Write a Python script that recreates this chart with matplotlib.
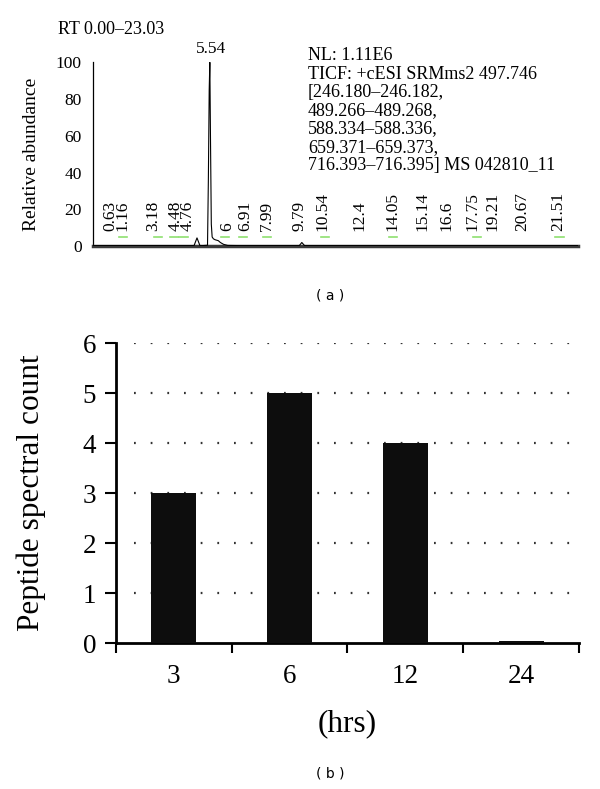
import matplotlib
matplotlib.use("Agg")
import matplotlib.pyplot as plt

# --- Panel (a): chromatogram (RT in min, relative abundance in %) ---
rt = [0.0, 1.0, 2.0, 3.0, 4.0, 4.80, 4.94, 5.08, 5.20, 5.44, 5.48, 5.52, 5.55,
      5.58, 5.62, 5.66, 5.72, 5.80, 5.95, 6.05, 6.20, 6.40, 7.0, 8.0, 9.80,
      9.92, 10.05, 12.0, 15.0, 18.0, 21.0, 23.03]
abundance = [0.3, 0.3, 0.3, 0.3, 0.3, 0.3, 4.5, 0.3, 0.3, 0.5, 36.0, 85.0, 100.0,
             60.0, 12.0, 5.0, 4.0, 3.5, 3.0, 2.0, 1.0, 0.4, 0.3, 0.3, 0.3,
             2.0, 0.3, 0.3, 0.3, 0.3, 0.3, 0.3]

peak_labels = ["0.63", "1.16", "3.18", "4.48", "4.76", "6", "6.91", "7.99", "9.79",
               "10.54", "12.4", "14.05", "15.14", "16.6", "17.75", "19.21",
               "20.67", "21.51"]
# where each label sits along the drawn RT axis
label_rt = [0.81, 1.38, 2.85, 3.94, 4.51, 6.36, 7.22, 8.26, 9.83, 10.92, 12.68,
            14.24, 15.67, 16.80, 18.04, 18.99, 20.37, 22.08]
# small green noise peaks
green_rt = [1.42, 3.09, 3.85, 4.30, 6.27, 7.12, 8.26, 11.02, 14.25, 18.23, 22.17]

header_text = ("NL: 1.11E6\n"
               "TICF: +cESI SRMms2 497.746\n"
               "[246.180\u2013246.182,\n"
               "489.266\u2013489.268,\n"
               "588.334\u2013588.336,\n"
               "659.371\u2013659.373,\n"
               "716.393\u2013716.395] MS 042810_11")

# --- Panel (b): spectral counts ---
hours = ["3", "6", "12", "24"]
counts = [3, 5, 4, 0.04]

plt.rcParams["font.family"] = ["Liberation Serif", "DejaVu Serif"]

fig = plt.figure(figsize=(6.0, 7.89), dpi=100)

# ---------- (a) ----------
ax1 = fig.add_axes([0.155, 0.688, 0.808, 0.233])
ax1.plot(rt, abundance, color="black", lw=0.8, zorder=3)
for g in green_rt:
    ax1.plot([g - 0.2, g + 0.2], [5.0, 5.0], color="#8fe070", lw=1.2)
for lab, xpos in zip(peak_labels, label_rt):
    ax1.text(xpos, 8, lab, rotation=90, ha="center", va="bottom", fontsize=12.5)
ax1.text(5.62, 103, "5.54", ha="center", va="bottom", fontsize=12.5)
ax1.set_xlim(0, 23.03)
ax1.set_ylim(0, 100)
ax1.set_yticks([0, 20, 40, 60, 80, 100])
ax1.set_xticks([])
ax1.tick_params(axis="y", length=0, labelsize=12.5, pad=8)
for s in ["top", "right"]:
    ax1.spines[s].set_visible(False)
ax1.spines["left"].set_linewidth(0.9)
ax1.spines["bottom"].set_linewidth(2.5)
ax1.spines["bottom"].set_color("#3a3a3a")
ax1.set_ylabel("Relative abundance", fontsize=14)
ax1.yaxis.set_label_coords(-0.109, 0.5)
fig.text(0.097, 0.962, "RT 0.00\u201323.03", fontsize=13, ha="left", va="center")
fig.text(0.513, 0.940, header_text, fontsize=13, ha="left", va="top", linespacing=1.1)
fig.text(0.55, 0.626, "( a )", fontsize=10, ha="center", va="center", family="DejaVu Sans")

# ---------- (b) ----------
ax2 = fig.add_axes([0.193, 0.185, 0.772, 0.380])
x = range(len(hours))
ax2.bar(x, counts, width=0.39, color="#0d0d0d", zorder=3)
ax2.set_xlim(-0.5, len(hours) - 0.5)
ax2.set_ylim(0, 6)
ax2.set_yticks(range(0, 7))
ax2.set_xticks(list(x))
ax2.set_xticklabels(hours)
ax2.set_xticks([i - 0.5 for i in range(len(hours) + 1)], minor=True)
ax2.tick_params(axis="x", which="major", length=0, labelsize=19.5, pad=15)
ax2.tick_params(axis="x", which="minor", length=7, width=1.5, direction="out")
ax2.tick_params(axis="y", length=8, width=1.5, direction="out", labelsize=19.5, pad=6)
for s in ["top", "right"]:
    ax2.spines[s].set_visible(False)
for s in ["left", "bottom"]:
    ax2.spines[s].set_linewidth(2.0)
for yv in range(1, 7):
    ax2.plot([-0.34, len(hours) - 0.5], [yv, yv], color="#333333", lw=1.6,
             linestyle=(0, (0.8, 6.7)), zorder=1)
ax2.set_ylabel("Peptide spectral count", fontsize=22.5)
ax2.yaxis.set_label_coords(-0.15, 0.5)
ax2.set_xlabel("(hrs)", fontsize=22.5, labelpad=15)
fig.text(0.55, 0.020, "( b )", fontsize=10, ha="center", va="center", family="DejaVu Sans")

fig.savefig("out.png", dpi=100)
